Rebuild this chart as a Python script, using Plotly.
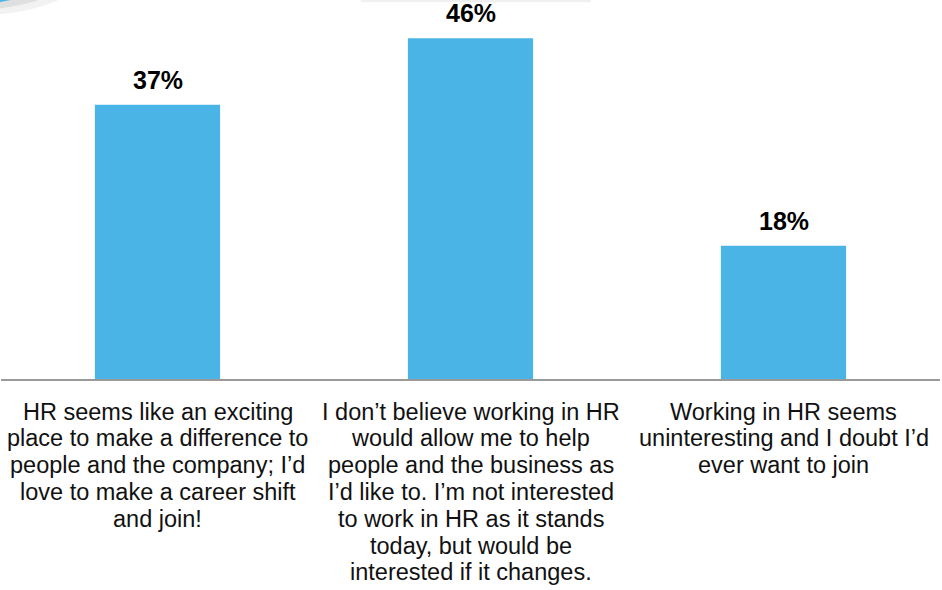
import plotly.graph_objects as go

categories = [
    "HR seems like an exciting<br>place to make a difference to<br>people and the company; I’d<br>love to make a career shift<br>and join!",
    "I don’t believe working in HR<br>would allow me to help<br>people and the business as<br>I’d like to. I’m not interested<br>to work in HR as it stands<br>today, but would be<br>interested if it changes.",
    "Working in HR seems<br>uninteresting and I doubt I’d<br>ever want to join",
]
values = [37, 46, 18]
value_labels = ["37%", "46%", "18%"]

FONT = "Liberation Sans, Arial, sans-serif"
BAR = "#4BB4E6"
x_idx = list(range(len(categories)))

fig = go.Figure()
fig.add_trace(go.Bar(
    x=x_idx, y=values, width=0.4,
    marker=dict(color=BAR, line=dict(width=0)),
    hoverinfo="skip",
))

annotations = []
for i, (v, lab) in enumerate(zip(values, value_labels)):
    annotations.append(dict(
        x=i, y=v, xref="x", yref="y", text="<b>%s</b>" % lab,
        showarrow=False, yanchor="bottom", yshift=9,
        font=dict(family=FONT, size=25, color="#000000"),
    ))

LINE_H = 26.8
for i, cat in enumerate(categories):
    for j, line in enumerate(cat.split("<br>")):
        annotations.append(dict(
            x=i, y=0, xref="x", yref="paper", text=line,
            showarrow=False, yanchor="middle", xanchor="center",
            yshift=-(32.5 + LINE_H * j),
            font=dict(family=FONT, size=23.5, color="#111111"),
        ))

shapes = [
    # soft shadow of top-left badge
    dict(type="circle", xref="paper", yref="paper", x0=-0.16, x1=0.092,
         y0=0.958, y1=1.2, fillcolor="rgba(0,0,0,0.05)", line=dict(width=0), layer="above"),
    dict(type="circle", xref="paper", yref="paper", x0=-0.16, x1=0.082,
         y0=0.972, y1=1.2, fillcolor="rgba(0,0,0,0.08)", line=dict(width=0), layer="above"),
    dict(type="circle", xref="paper", yref="paper", x0=-0.16, x1=0.068,
         y0=0.986, y1=1.2, fillcolor="#4BB4E6", line=dict(width=0), layer="above"),
    dict(type="circle", xref="paper", yref="paper", x0=-0.16, x1=0.058,
         y0=0.993, y1=1.2, fillcolor="#FFC000", line=dict(width=0), layer="above"),
    # faint shadow of top-centre box
    dict(type="rect", xref="paper", yref="paper", x0=0.383, x1=0.628,
         y0=0.994, y1=1.0, fillcolor="rgba(0,0,0,0.06)", line=dict(width=0), layer="above"),
]

fig.update_layout(
    width=942, height=590, autosize=False,
    margin=dict(l=1, r=2, t=0, b=211, pad=0),
    paper_bgcolor="white", plot_bgcolor="white",
    showlegend=False, bargap=0.6,
    xaxis=dict(range=[-0.5, 2.5], showticklabels=False, ticks="",
               showgrid=False, zeroline=False,
               showline=True, linecolor="#9a9a9a", linewidth=2),
    yaxis=dict(range=[0, 51.15], visible=False, showgrid=False, zeroline=False),
    annotations=annotations,
    shapes=shapes,
)

fig.write_html("out.html")
